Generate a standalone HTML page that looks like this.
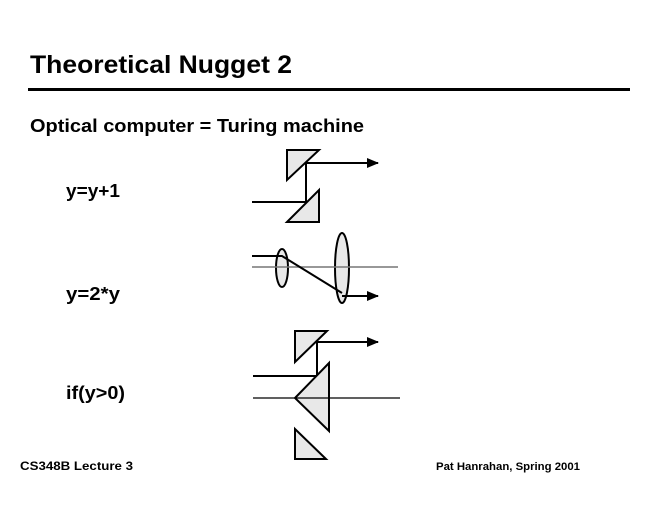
<!DOCTYPE html>
<html><head><meta charset="utf-8"><style>
html,body{margin:0;padding:0;background:#fff;}
svg{display:block;font-family:"Liberation Sans",Arial,sans-serif;font-weight:bold;}
</style></head><body>
<svg width="660" height="510" viewBox="0 0 660 510" xmlns="http://www.w3.org/2000/svg">
<defs><marker id="a" markerWidth="12" markerHeight="10" refX="11" refY="5" orient="auto" markerUnits="userSpaceOnUse"><path d="M0,0 L12,5 L0,10 Z" fill="#000"/></marker></defs>
<text x="30" y="73" font-size="25" textLength="262" lengthAdjust="spacingAndGlyphs">Theoretical Nugget 2</text>
<rect x="28" y="88" width="602" height="3" fill="#000"/>
<text x="30" y="132" font-size="18" textLength="334" lengthAdjust="spacingAndGlyphs">Optical computer = Turing machine</text>
<text x="66" y="197" font-size="18" textLength="54" lengthAdjust="spacingAndGlyphs">y=y+1</text>
<text x="66" y="300" font-size="18" textLength="54" lengthAdjust="spacingAndGlyphs">y=2*y</text>
<text x="66" y="399" font-size="18" textLength="59" lengthAdjust="spacingAndGlyphs">if(y&gt;0)</text>
<text x="20" y="470" font-size="12" textLength="113" lengthAdjust="spacingAndGlyphs">CS348B Lecture 3</text>
<text x="436" y="470" font-size="11" textLength="144" lengthAdjust="spacingAndGlyphs">Pat Hanrahan, Spring 2001</text>
<g stroke="#000" stroke-width="2" fill="#e8e8e8">
<polygon points="287,150 319,150 287,180"/>
<polygon points="287,222 319,190 319,222"/>
<line x1="306" y1="163" x2="306" y2="202"/>
<line x1="306" y1="163" x2="378" y2="163" marker-end="url(#a)"/>
<line x1="252" y1="202" x2="306" y2="202"/>
<ellipse cx="282" cy="268" rx="6" ry="19"/>
<ellipse cx="342" cy="268" rx="7" ry="35"/>
<line x1="252" y1="267" x2="398" y2="267" stroke="#777" stroke-width="1.5"/>
<polyline points="252,256 282,256 342,293" fill="none"/>
<line x1="342" y1="296" x2="378" y2="296" marker-end="url(#a)"/>
<polygon points="295,331 327,331 295,362"/>
<line x1="317" y1="342" x2="317" y2="376"/>
<line x1="317" y1="342" x2="378" y2="342" marker-end="url(#a)"/>
<line x1="253" y1="376" x2="317" y2="376"/>
<polygon points="295,398 329,363 329,431"/>
<line x1="253" y1="398" x2="400" y2="398" stroke-width="1.3"/>
<polygon points="295,429 295,459 326,459"/>
</g>
</svg>
</body></html>
